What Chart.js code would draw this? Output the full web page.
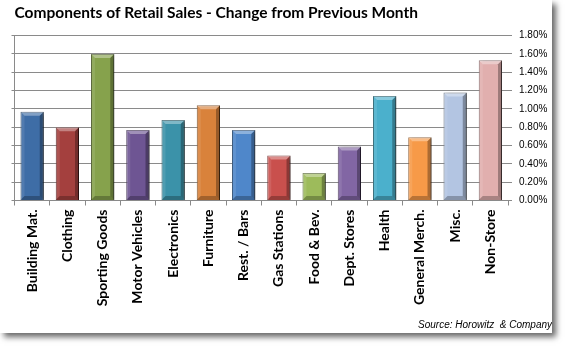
<!DOCTYPE html>
<html>
<head>
<meta charset="utf-8">
<script src="https://cdn.jsdelivr.net/npm/chart.js@4/dist/chart.umd.min.js"></script>
<style>
  html, body { margin: 0; padding: 0; background: #fff; }
  #card {
    position: absolute; left: 0; top: 0;
    width: 552px; height: 333px;
    background: #fff;
    box-shadow: 4px 4px 6px rgba(0, 0, 0, 0.6);
  }
</style>
</head>
<body>
<div id="card"><canvas id="chart" width="552" height="333"></canvas></div>
<script>
// Chart data (percent change from previous month)
const categories = ["Building Mat.", "Clothing", "Sporting Goods", "Motor Vehicles", "Electronics",
    "Furniture", "Rest. / Bars", "Gas Stations", "Food & Bev.", "Dept. Stores", "Health",
    "General Merch.", "Misc.", "Non-Store"];
const changePct = [0.97, 0.80, 1.60, 0.77, 0.88, 1.04, 0.77, 0.49, 0.30, 0.59, 1.14, 0.69, 1.18, 1.53];
const barColors = ["#3E6DA6", "#A4403E", "#86A24C", "#6E5593", "#3B92A9", "#D9823B", "#4F87CA",
    "#C9504D", "#9DBB5B", "#8266A4", "#4BB0CC", "#F79A48", "#B3C5E2", "#E1AFAE"];
const yMin = 0, yMax = 1.8, yStep = 0.2;

const gridColor = "#8a8a8a";

/**
 * Darkens (neg amount) or lightens (pos amount) a hex colour.
 */
function shade(hex, amount) {
    let n = parseInt(hex.slice(1), 16);
    let r = (n >> 16) & 255, g = (n >> 8) & 255, b = n & 255;
    const f = (c) => Math.max(0, Math.min(255, Math.round(amount < 0 ? c * (1 + amount) : c + (255 - c) * amount)));
    return "rgb(" + f(r) + "," + f(g) + "," + f(b) + ")";
}

// Soft drop shadow under the bars
const barShadow = {
    id: "barShadow",
    beforeDatasetsDraw(chart) {
        const ctx = chart.ctx;
        ctx.save();
        ctx.shadowColor = "rgba(0,0,0,0.35)";
        ctx.shadowOffsetX = 3;
        ctx.shadowOffsetY = 1;
        ctx.shadowBlur = 3;
    },
    afterDatasetsDraw(chart) {
        chart.ctx.restore();
    }
};

// Excel-like bevel edges on each bar
const barBevel = {
    id: "barBevel",
    afterDatasetsDraw(chart) {
        const ctx = chart.ctx;
        const meta = chart.getDatasetMeta(0);
        const b = 4;
        ctx.save();
        for (const bar of meta.data) {
            const l = bar.x - bar.width / 2, r = bar.x + bar.width / 2;
            const t = bar.y, btm = bar.base;
            const poly = (pts, fill) => {
                ctx.beginPath();
                ctx.moveTo(pts[0][0], pts[0][1]);
                for (let i = 1; i < pts.length; i++) ctx.lineTo(pts[i][0], pts[i][1]);
                ctx.closePath();
                ctx.fillStyle = fill;
                ctx.fill();
            };
            poly([[l, t], [r, t], [r - b, t + b], [l + b, t + b]], "rgba(255,255,255,0.35)");
            poly([[l, t], [l + b, t + b], [l + b, btm - b], [l, btm]], "rgba(255,255,255,0.10)");
            poly([[r, t], [r, btm], [r - b, btm - b], [r - b, t + b]], "rgba(0,0,0,0.30)");
            poly([[l, btm], [l + b, btm - b], [r - b, btm - b], [r, btm]], "rgba(0,0,0,0.25)");
        }
        ctx.restore();
    }
};

const chartCanvas = document.getElementById("chart");
const config = {
    type: "bar",
    data: {
        labels: categories,
        datasets: [{
            data: changePct,
            backgroundColor: barColors,
            borderColor: barColors.map(c => shade(c, -0.45)),
            borderWidth: 1,
            barPercentage: 0.66,
            categoryPercentage: 1.0,
            yAxisID: "y"
        }]
    },
    options: {
        responsive: false,
        animation: false,
        layout: { padding: { left: 11, right: 0, top: 0, bottom: 0 } },
        plugins: {
            legend: { display: false },
            tooltip: { enabled: false },
            title: {
                display: true,
                text: "Components of Retail Sales - Change from Previous Month",
                align: "start",
                fullSize: false,
                color: "#000",
                font: { family: "Lato", size: 15.5, weight: "bold" },
                padding: { top: 4, bottom: 13 }
            },
            subtitle: {
                display: true,
                position: "bottom",
                align: "end",
                text: "Source: Horowitz  & Company",
                color: "#000",
                font: { family: "Liberation Sans", size: 10, style: "italic" },
                padding: { top: 0, bottom: 2 }
            }
        },
        scales: {
            x: {
                grid: { display: true, drawOnChartArea: false, offset: true, tickLength: 5, color: gridColor },
                border: { display: true, color: gridColor },
                ticks: {
                    autoSkip: false,
                    maxRotation: 90,
                    minRotation: 90,
                    padding: 4,
                    color: "#000",
                    font: { family: "Lato", size: 14, weight: "bold" }
                },
                afterFit: (scale) => { scale.height = 118.5; }
            },
            y: {
                position: "right",
                min: yMin,
                max: yMax,
                grid: { color: gridColor, tickLength: 4 },
                border: { display: false },
                ticks: {
                    stepSize: yStep,
                    padding: 7,
                    color: "#000",
                    font: { family: "Liberation Sans", size: 10 },
                    callback: (v) => v.toFixed(2) + "%"
                },
                afterFit: (scale) => { scale.width = 44; }
            },
            y2: {
                position: "left",
                min: yMin,
                max: yMax,
                grid: { drawOnChartArea: false, tickLength: 3, color: gridColor },
                border: { display: true, color: gridColor },
                ticks: { display: false, stepSize: yStep },
                afterFit: (scale) => { scale.width = 3.5; }
            }
        }
    },
    plugins: [barShadow, barBevel]
};

let myChart = new Chart(chartCanvas, config);
</script>
</body>
</html>
